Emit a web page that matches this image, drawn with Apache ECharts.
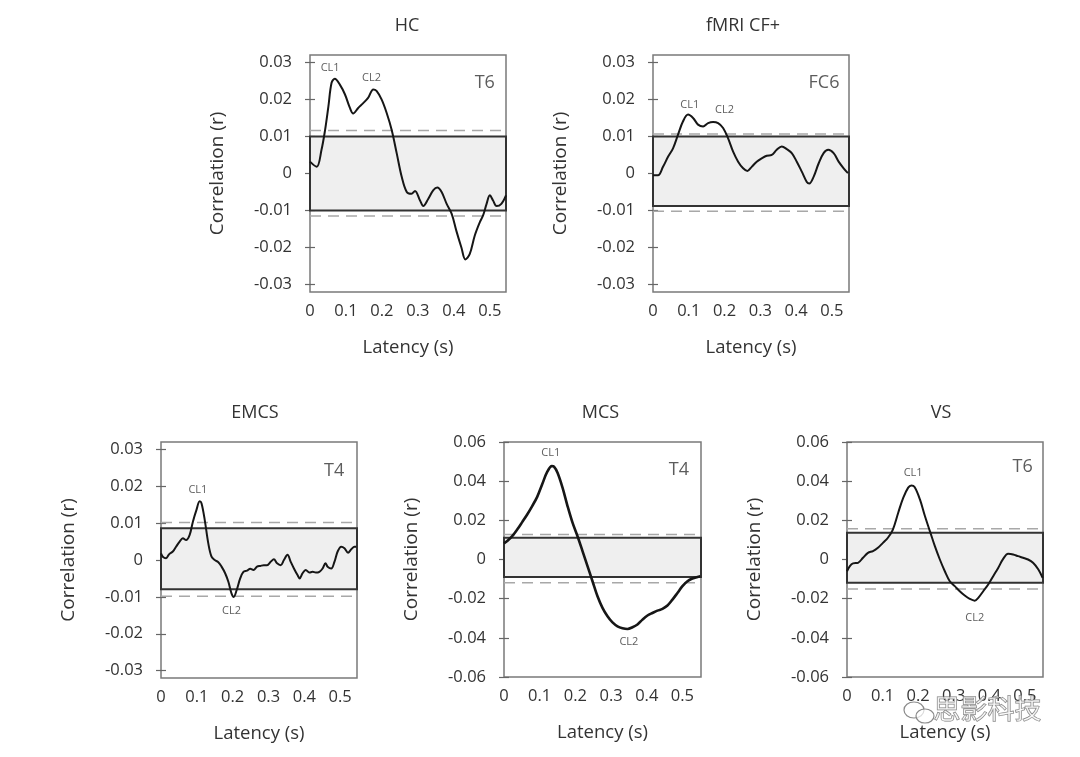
<!DOCTYPE html>
<html><head><meta charset="utf-8">
<script src="https://cdn.jsdelivr.net/npm/echarts@6/dist/echarts.min.js"></script>
<style>html,body{margin:0;padding:0;background:#fff}#c{width:1080px;height:757px}</style>
</head><body><div id="c"></div>
<script>
// ---------- DATA ----------
const panelTitles = ['HC', 'fMRI CF+', 'EMCS', 'MCS', 'VS'];
const channelNames = ['T6', 'FC6', 'T4', 'T4', 'T6'];
const xTicks = [0, 0.1, 0.2, 0.3, 0.4, 0.5];
const yTicksSmall = [-0.03, -0.02, -0.01, 0, 0.01, 0.02, 0.03];
const yTicksLarge = [-0.06, -0.04, -0.02, 0, 0.02, 0.04, 0.06];

const hcCurve = [[0,0.0032],[0.0185,0.0018],[0.032,0.0064],[0.042,0.0118],[0.051,0.018],[0.06,0.0245],[0.069,0.0256],[0.083,0.024],[0.097,0.0214],[0.111,0.0177],[0.12,0.0162],[0.134,0.0177],[0.148,0.019],[0.162,0.0205],[0.176,0.0227],[0.185,0.0223],[0.199,0.02],[0.213,0.0164],[0.227,0.0118],[0.241,0.0055],[0.255,-0.0009],[0.269,-0.005],[0.282,-0.0055],[0.292,-0.0047],[0.306,-0.0073],[0.315,-0.0088],[0.329,-0.0068],[0.343,-0.0045],[0.354,-0.0038],[0.366,-0.005],[0.38,-0.0082],[0.394,-0.0109],[0.407,-0.0155],[0.421,-0.02],[0.432,-0.0232],[0.444,-0.0218],[0.458,-0.0168],[0.472,-0.0132],[0.481,-0.0114],[0.491,-0.0082],[0.5,-0.0059],[0.509,-0.0073],[0.519,-0.0088],[0.532,-0.0082],[0.545,-0.0059]];
const fmriCurve = [[0,-0.0005],[0.014,-0.0005],[0.028,0.0018],[0.042,0.0045],[0.056,0.0068],[0.07,0.0105],[0.084,0.0141],[0.098,0.0159],[0.112,0.015],[0.126,0.0132],[0.14,0.0127],[0.154,0.0136],[0.168,0.0139],[0.182,0.0136],[0.196,0.0123],[0.21,0.0095],[0.224,0.0059],[0.238,0.0032],[0.252,0.0014],[0.264,0.0007],[0.276,0.0018],[0.29,0.0032],[0.304,0.0041],[0.318,0.0048],[0.332,0.005],[0.346,0.0064],[0.36,0.0073],[0.374,0.0066],[0.388,0.0055],[0.402,0.0032],[0.416,0.0005],[0.43,-0.0023],[0.437,-0.0027],[0.449,-0.0009],[0.463,0.0027],[0.477,0.0055],[0.49,0.0064],[0.505,0.0055],[0.519,0.0032],[0.533,0.0014],[0.545,0.0001]];
const emcsCurve = [[0,0.0018],[0.005,0.0009],[0.014,0.0005],[0.023,0.0016],[0.033,0.0023],[0.042,0.0036],[0.052,0.005],[0.061,0.0059],[0.07,0.0054],[0.08,0.0068],[0.089,0.0104],[0.099,0.0136],[0.108,0.0159],[0.113,0.0154],[0.122,0.0109],[0.132,0.0045],[0.141,0.0009],[0.15,0],[0.16,-0.0006],[0.169,-0.0018],[0.179,-0.0036],[0.188,-0.0059],[0.197,-0.0091],[0.203,-0.01],[0.211,-0.0082],[0.221,-0.005],[0.23,-0.0032],[0.24,-0.0029],[0.249,-0.0024],[0.258,-0.0027],[0.268,-0.0018],[0.277,-0.0016],[0.287,-0.0014],[0.296,-0.0014],[0.306,-0.0005],[0.315,0.0002],[0.324,-0.0009],[0.334,-0.0014],[0.343,0],[0.353,0.0014],[0.362,-0.0005],[0.371,-0.0023],[0.381,-0.0041],[0.387,-0.005],[0.395,-0.0036],[0.404,-0.0027],[0.414,-0.0034],[0.423,-0.0032],[0.432,-0.0034],[0.442,-0.0032],[0.451,-0.0023],[0.459,-0.0009],[0.465,-0.0018],[0.475,-0.0023],[0.484,-0.0005],[0.493,0.0023],[0.503,0.0036],[0.512,0.0032],[0.522,0.002],[0.531,0.0029],[0.54,0.0036],[0.545,0.0036]];
const mcsCurve = [[0,0.0082],[0.009,0.0094],[0.023,0.0119],[0.037,0.0153],[0.051,0.0191],[0.065,0.023],[0.079,0.0273],[0.093,0.032],[0.107,0.0384],[0.121,0.0447],[0.134,0.0477],[0.14,0.0474],[0.15,0.0443],[0.164,0.0367],[0.178,0.0273],[0.192,0.0188],[0.206,0.0119],[0.22,0.0043],[0.234,-0.0034],[0.248,-0.0111],[0.262,-0.0188],[0.276,-0.0247],[0.29,-0.029],[0.304,-0.0321],[0.318,-0.0341],[0.332,-0.0351],[0.346,-0.0355],[0.36,-0.0346],[0.374,-0.0332],[0.388,-0.0307],[0.402,-0.0286],[0.416,-0.0273],[0.43,-0.0261],[0.444,-0.0252],[0.458,-0.0235],[0.472,-0.0205],[0.486,-0.0171],[0.5,-0.0136],[0.514,-0.0111],[0.528,-0.0097],[0.55,-0.0085]];
const vsCurve = [[0,-0.006],[0.008,-0.0034],[0.017,-0.002],[0.031,-0.0017],[0.045,0.0009],[0.059,0.0034],[0.073,0.0043],[0.087,0.006],[0.101,0.0085],[0.115,0.0111],[0.129,0.0153],[0.144,0.0239],[0.158,0.0315],[0.172,0.0367],[0.181,0.0378],[0.19,0.037],[0.205,0.0307],[0.219,0.0222],[0.233,0.0145],[0.247,0.0068],[0.261,0],[0.275,-0.006],[0.289,-0.0111],[0.303,-0.0136],[0.317,-0.0162],[0.331,-0.0184],[0.345,-0.0201],[0.359,-0.021],[0.369,-0.0196],[0.383,-0.0162],[0.397,-0.0128],[0.411,-0.0085],[0.425,-0.0043],[0.439,0.0003],[0.453,0.0029],[0.467,0.0026],[0.481,0.0017],[0.495,0.0009],[0.509,0],[0.523,-0.0017],[0.538,-0.0051],[0.55,-0.0094]];

// significance band (box) and dashed thresholds [lower, upper]
const bandLimits = [[-0.01, 0.01], [-0.0088, 0.01], [-0.0079, 0.0086], [-0.0089, 0.0111], [-0.0119, 0.0136]];
const dashedLimits = [[-0.0115, 0.0116], [-0.0102, 0.0107], [-0.0098, 0.0102], [-0.0119, 0.0128], [-0.015, 0.0157]];
// peak labels: [latency, r]
const cl1Pos = [[0.056, 0.0286], [0.103, 0.0186], [0.103, 0.019], [0.131, 0.0546], [0.186, 0.0443]];
const cl2Pos = [[0.171, 0.0259], [0.2, 0.0173], [0.197, -0.0139], [0.35, -0.0423], [0.359, -0.0298]];
const chanPos = [[0.486, 0.0245], [0.478, 0.0245], [0.483, 0.0243], [0.49, 0.046], [0.494, 0.0474]];

const curves = [hcCurve, fmriCurve, emcsCurve, mcsCurve, vsCurve];
const yLimits = [[-0.032, 0.032], [-0.032, 0.032], [-0.032, 0.032], [-0.06, 0.06], [-0.06, 0.06]];
const yTickSets = [yTicksSmall, yTicksSmall, yTicksSmall, yTicksLarge, yTicksLarge];
const xMax = [0.545, 0.548, 0.547, 0.552, 0.551];

// ---------- LAYOUT ----------
const grids = [
  {left: 310, top: 55, width: 196, height: 237},
  {left: 653, top: 55, width: 196, height: 237},
  {left: 161, top: 442, width: 196, height: 236},
  {left: 504, top: 442, width: 197, height: 235},
  {left: 847, top: 442, width: 196, height: 235}
];
const titleShift = [-6, -13, -9, -7, -9];
const FONT = 'Open Sans';
const TXT = '#333';

const option = {
  animation: false,
  backgroundColor: '#fff',
  title: [], grid: [], xAxis: [], yAxis: [], series: [],
  graphic: []
};

grids.forEach((g, i) => {
  option.grid.push({left: g.left, top: g.top, width: g.width, height: g.height,
    show: true, borderColor: '#7a7a7a', borderWidth: 1.5, backgroundColor: 'transparent'});
  option.title.push({text: panelTitles[i], left: g.left + g.width / 2 + titleShift[i], top: g.top - 43,
    textAlign: 'center',
    textStyle: {fontFamily: FONT, fontSize: 18, fontWeight: 'normal', color: TXT}});
  const tickStyle = {show: true, inside: true, length: 5, lineStyle: {color: '#666', width: 1.2}};
  // bottom x
  option.xAxis.push({type: 'value', gridIndex: i, min: 0, max: xMax[i], position: 'bottom',
    splitLine: {show: false}, axisLine: {show: false},
    axisTick: Object.assign({customValues: xTicks}, tickStyle),
    axisLabel: {customValues: xTicks, formatter: v => String(v), fontFamily: FONT, fontSize: 16.5, color: TXT, margin: 11},
    name: 'Latency (s)', nameLocation: 'middle', nameGap: 46.5,
    nameTextStyle: {fontFamily: FONT, fontSize: 18.5, color: TXT}});
  // top mirror x
  option.xAxis.push({type: 'value', gridIndex: i, min: 0, max: xMax[i], position: 'top',
    splitLine: {show: false}, axisLine: {show: false},
    axisTick: Object.assign({customValues: xTicks}, tickStyle),
    axisLabel: {show: false}});
  // left y
  option.yAxis.push({type: 'value', gridIndex: i, min: yLimits[i][0], max: yLimits[i][1], position: 'left',
    splitLine: {show: false}, axisLine: {show: false},
    axisTick: Object.assign({customValues: yTickSets[i]}, tickStyle),
    axisLabel: {customValues: yTickSets[i], formatter: v => String(v), fontFamily: FONT, fontSize: 16.5, color: TXT, margin: 18},
    name: 'Correlation (r)', nameLocation: 'middle', nameGap: 83, nameRotate: 90,
    nameTextStyle: {fontFamily: FONT, fontSize: 19, color: TXT}});
  // right mirror y
  option.yAxis.push({type: 'value', gridIndex: i, min: yLimits[i][0], max: yLimits[i][1], position: 'right',
    splitLine: {show: false}, axisLine: {show: false},
    axisTick: Object.assign({customValues: yTickSets[i]}, tickStyle),
    axisLabel: {show: false}});

  const xi = 2 * i, yi = 2 * i;
  // band
  option.series.push({type: 'line', xAxisIndex: xi, yAxisIndex: yi, data: [], z: 1, silent: true,
    markArea: {silent: true,
      itemStyle: {color: '#efefef', borderColor: '#333', borderWidth: 2},
      data: [[{yAxis: bandLimits[i][0]}, {yAxis: bandLimits[i][1]}]]}
  });
  // dashed thresholds
  dashedLimits[i].forEach(v => {
    option.series.push({type: 'line', xAxisIndex: xi, yAxisIndex: yi, z: 2, silent: true,
      data: [[0, v], [xMax[i], v]], symbol: 'none',
      lineStyle: {color: '#a8a8a8', width: 1.5, type: [11, 7]}});
  });
  // curve
  option.series.push({type: 'line', xAxisIndex: xi, yAxisIndex: yi, data: curves[i], z: 3,
    smooth: 0.35, showSymbol: false, symbol: 'none',
    lineStyle: {color: '#161616', width: i === 3 ? 2.6 : 2}});
  // labels
  option.series.push({type: 'scatter', xAxisIndex: xi, yAxisIndex: yi, z: 4, symbolSize: 0, silent: true,
    data: [
      {value: cl1Pos[i], name: 'CL1', label: {fontSize: 11}},
      {value: cl2Pos[i], name: 'CL2', label: {fontSize: 11}},
      {value: chanPos[i], name: channelNames[i], label: {fontSize: 18}}
    ],
    label: {show: true, position: 'inside', formatter: '{b}', fontFamily: FONT, color: TXT}
  });
});

// watermark
option.graphic.push(
  {type: 'ellipse', shape: {cx: 914, cy: 710, rx: 10, ry: 8}, style: {fill: 'rgba(255,255,255,0.5)', stroke: '#8a8a8a', lineWidth: 1.2}, z: 100},
  {type: 'ellipse', shape: {cx: 925, cy: 716, rx: 9, ry: 7}, style: {fill: 'rgba(255,255,255,0.7)', stroke: '#8a8a8a', lineWidth: 1.2}, z: 100},
  {type: 'text', left: 933, top: 695, z: 100,
    style: {text: '思影科技', font: '27px "Noto Sans CJK SC"', fill: 'rgba(255,255,255,0.55)', stroke: '#7a7a7a', lineWidth: 1}}
);

const chart = echarts.init(document.getElementById('c'), null, {renderer: 'canvas'});
chart.setOption(option);
</script></body></html>
